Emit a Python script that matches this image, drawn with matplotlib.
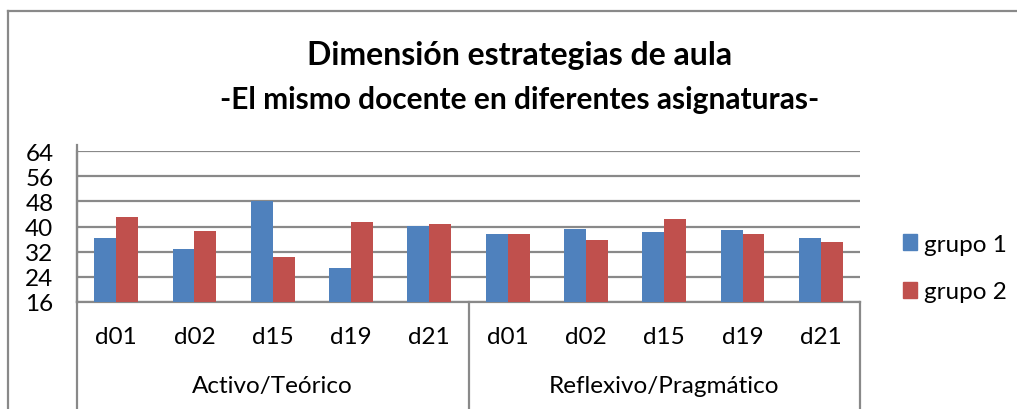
import matplotlib
matplotlib.use("Agg")
import matplotlib.pyplot as plt
from matplotlib.lines import Line2D
from matplotlib.patches import Patch
import numpy as np

plt.rcParams['font.family'] = ['Lato', 'DejaVu Sans']

groups = ["Activo/Teórico", "Reflexivo/Pragmático"]
items = ["d01", "d02", "d15", "d19", "d21"]
grupo1 = [36.4, 32.9, 48.1, 26.9, 40.3, 37.7, 39.3, 38.3, 38.9, 36.2]
grupo2 = [42.9, 38.7, 30.2, 41.4, 40.9, 37.5, 35.6, 42.3, 37.5, 34.9]
series_names = ["grupo 1", "grupo 2"]
yticks = [16, 24, 32, 40, 48, 56, 64]
title = "Dimensión estrategias de aula"
subtitle = "-El mismo docente en diferentes asignaturas-"

blue = "#4F81BD"
red = "#C0504D"
grid_c = "#898989"
fs = 17.5

W, H = 1017, 410
fig = plt.figure(figsize=(W / 100, H / 100), dpi=100)

x0, x1 = 77, 860
ytop, ybot = 152.3, 302.7
ax = fig.add_axes([x0 / W, 1 - ybot / H, (x1 - x0) / W, (ybot - ytop) / H])

n = len(grupo1)
x = np.arange(n)
bw = 0.28
ax.bar(x - bw / 2, [v - 16 for v in grupo1], bw, bottom=16, color=blue, label=series_names[0], zorder=3)
ax.bar(x + bw / 2, [v - 16 for v in grupo2], bw, bottom=16, color=red, label=series_names[1], zorder=3)
ax.set_xlim(-0.5, n - 0.5)
ax.set_ylim(16, 64)
ax.set_yticks(yticks)
ax.set_yticklabels([str(t) for t in yticks], fontsize=fs)
ax.tick_params(axis='y', length=0, pad=17)
ax.tick_params(axis='x', length=0, labelbottom=False)
ax.yaxis.grid(True, color=grid_c, lw=1.6, zorder=0)
for s in ['top', 'right']:
    ax.spines[s].set_visible(False)
ax.spines['left'].set_color(grid_c)
ax.spines['left'].set_linewidth(1.6)
ax.spines['bottom'].set_color(grid_c)
ax.spines['bottom'].set_linewidth(1.6)

def fx(px):
    return px / W

def fy(py):
    return 1 - py / H

xmid = (x0 + x1) / 2
for xp in [x0, xmid, x1]:
    fig.add_artist(Line2D([fx(xp), fx(xp)], [fy(ybot), fy(H)], color=grid_c, lw=1.6))
fig.add_artist(Line2D([fx(x0), fx(x0)], [fy(146), fy(ybot)], color=grid_c, lw=1.6))

cw = (x1 - x0) / n
labels = items * len(groups)
for i, lab in enumerate(labels):
    fig.text(fx(x0 + cw * (i + 0.5)), fy(338), lab, ha='center', va='center', fontsize=fs)
for g, name in enumerate(groups):
    fig.text(fx(x0 + cw * 5 * (g + 0.5)), fy(387), name, ha='center', va='center', fontsize=fs)

fig.add_artist(Line2D([fx(7.5), fx(7.5)], [fy(12), fy(H)], color=grid_c, lw=1.6))
fig.add_artist(Line2D([fx(7.5), fx(W)], [fy(12), fy(12)], color=grid_c, lw=1.6))

fig.text(fx(520), fy(55), title, ha='center', va='center', fontsize=23, fontweight='bold')
fig.text(fx(520), fy(100), subtitle, ha='center', va='center', fontsize=21.5, fontweight='bold')

fig.legend(handles=[Patch(color=blue, label=series_names[0]), Patch(color=red, label=series_names[1])],
           loc='center left', bbox_to_anchor=(fx(881), fy(269)), frameon=False, fontsize=fs,
           handlelength=0.6, handleheight=0.6, handletextpad=0.25, labelspacing=1.1)

fig.savefig("out.png", dpi=100)
